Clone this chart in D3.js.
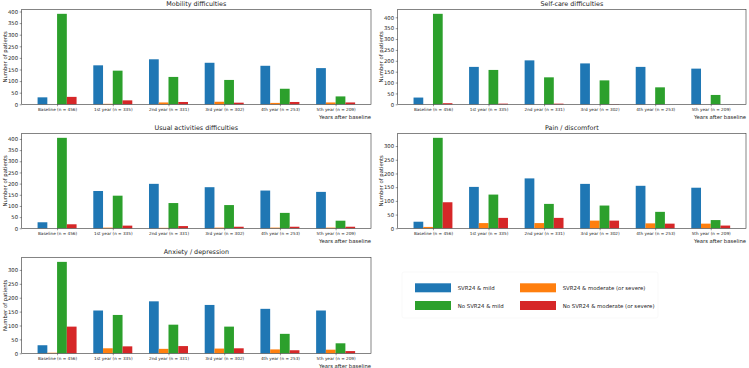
<!DOCTYPE html>
<html><head><meta charset="utf-8">
<script src="https://cdn.jsdelivr.net/npm/d3@7"></script>
<style>body{margin:0;background:#fff}svg{display:block}text{font-family:"DejaVu Sans",sans-serif;fill:#222}</style>
</head><body><svg id="c" width="749" height="368"></svg>
<script>
const categories = ["Baseline (n = 456)", "1st year (n = 335)", "2nd year (n = 331)", "3rd year (n = 302)", "4th year (n = 253)", "5th year (n = 209)"];
const seriesNames = ["SVR24 & mild", "SVR24 & moderate (or severe)", "No SVR24 & mild", "No SVR24 & moderate (or severe)"];
const seriesColors = ["#1f77b4", "#ff7f0e", "#2ca02c", "#d62728"];
const panelTitles = ["Mobility difficulties", "Self-care difficulties", "Usual activities difficulties", "Pain / discomfort", "Anxiety / depression"];
const yTicks400 = [0, 50, 100, 150, 200, 250, 300, 350, 400];
const yTicks300 = [0, 50, 100, 150, 200, 250, 300];

// rows: SVR24 & mild, SVR24 & moderate, No SVR24 & mild, No SVR24 & moderate
const mobility = [
  [30, 168, 194, 179, 166, 156],
  [0, 2, 8, 11, 6, 8],
  [390, 145, 118, 105, 67, 34],
  [32, 17, 10, 7, 10, 8]
];
const selfCare = [
  [31, 172, 202, 188, 172, 164],
  [0, 0, 0, 0, 0, 0],
  [416, 158, 124, 110, 78, 43],
  [5, 3, 3, 1, 0, 0]
];
const usualActivities = [
  [27, 167, 199, 184, 169, 163],
  [0, 3, 2, 3, 3, 3],
  [405, 146, 113, 104, 69, 34],
  [18, 12, 10, 7, 7, 7]
];
const pain = [
  [24, 151, 182, 162, 155, 148],
  [5, 19, 19, 28, 18, 17],
  [330, 123, 89, 83, 60, 30],
  [95, 38, 38, 28, 17, 10]
];
const anxiety = [
  [29, 154, 187, 174, 160, 154],
  [2, 18, 16, 17, 14, 13],
  [329, 138, 103, 96, 70, 36],
  [96, 25, 26, 18, 11, 8]
];

const panelData = [mobility, selfCare, usualActivities, pain, anxiety];
const panelTicks = [yTicks400, yTicks400, yTicks400, yTicks300, yTicks300];

const svg = d3.select("#c");
const boxes = [
  {l: 21.7, r: 371, t: 9.3, b: 104.3},
  {l: 397.7, r: 746, t: 9.3, b: 104.3},
  {l: 21.7, r: 371, t: 133.3, b: 228.3},
  {l: 397.7, r: 746, t: 133.3, b: 228.3},
  {l: 21.7, r: 371, t: 257.3, b: 353.3}
];
const bw = 0.175;
const n = categories.length;
const span = (n - 1) + 4 * bw;
const x = d3.scaleLinear().domain([-2 * bw - 0.05 * span, (n - 1) + 2 * bw + 0.05 * span]);

panelData.forEach((data, p) => {
  const box = boxes[p];
  const xs = x.copy().range([box.l, box.r]);
  const ymax = d3.max(data.flat()) * 1.05;
  const y = d3.scaleLinear().domain([0, ymax]).range([box.b, box.t]);
  const g = svg.append("g");
  data.forEach((vals, s) => {
    g.selectAll(null).data(vals).join("rect")
      .attr("x", (d, i) => xs(i + (s - 2) * bw))
      .attr("width", xs(bw) - xs(0))
      .attr("y", d => y(d))
      .attr("height", d => y(0) - y(d))
      .attr("fill", seriesColors[s]);
  });
  const ya = g.append("g").attr("transform", `translate(${box.l},0)`)
    .call(d3.axisLeft(y).tickValues(panelTicks[p]).tickSize(2).tickPadding(1.6));
  ya.select(".domain").remove();
  ya.selectAll("line").attr("stroke", "#333").attr("stroke-width", 0.5);
  ya.selectAll("text").style("font-size", "5.3px").attr("fill", "#222").style("font-family", "DejaVu Sans");
  const xa = g.append("g").attr("transform", `translate(0,${box.b})`)
    .call(d3.axisBottom(xs).tickValues(d3.range(n)).tickFormat(i => categories[i]).tickSize(2).tickPadding(1.8));
  xa.select(".domain").remove();
  xa.selectAll("line").attr("stroke", "#333").attr("stroke-width", 0.5);
  xa.selectAll("text").style("font-size", "4.2px").attr("fill", "#222").style("font-family", "DejaVu Sans");
  g.append("rect").attr("x", box.l).attr("y", box.t).attr("width", box.r - box.l).attr("height", box.b - box.t)
    .attr("fill", "none").attr("stroke", "#333").attr("stroke-width", 0.6);
  g.append("text").attr("x", (box.l + box.r) / 2).attr("y", box.t - 3.2).attr("text-anchor", "middle")
    .style("font-size", "6.4px").text(panelTitles[p]);
  g.append("text").attr("x", box.r).attr("y", box.b + 14.6).attr("text-anchor", "end")
    .style("font-size", "5.3px").text("Years after baseline");
  g.append("text").attr("transform", `translate(${box.l - 15},${(box.t + box.b) / 2}) rotate(-90)`)
    .attr("text-anchor", "middle").style("font-size", "5.3px").text("Number of patients");
});

const leg = svg.append("g");
leg.append("rect").attr("x", 402).attr("y", 272).attr("width", 256).attr("height", 46).attr("rx", 2)
  .attr("fill", "#fff").attr("stroke", "#f3f3f3").attr("stroke-width", 0.5);
const legPos = [
  {x: 415, y: 283.3}, {x: 520, y: 283.3}, {x: 415, y: 301}, {x: 520, y: 301}
];
seriesNames.forEach((name, s) => {
  const pos = legPos[s];
  leg.append("rect").attr("x", pos.x).attr("y", pos.y).attr("width", 36).attr("height", 9).attr("fill", seriesColors[s]);
  leg.append("text").attr("x", pos.x + 42.7).attr("y", pos.y + 6.6).style("font-size", "5.4px").text(name);
});
</script></body></html>
